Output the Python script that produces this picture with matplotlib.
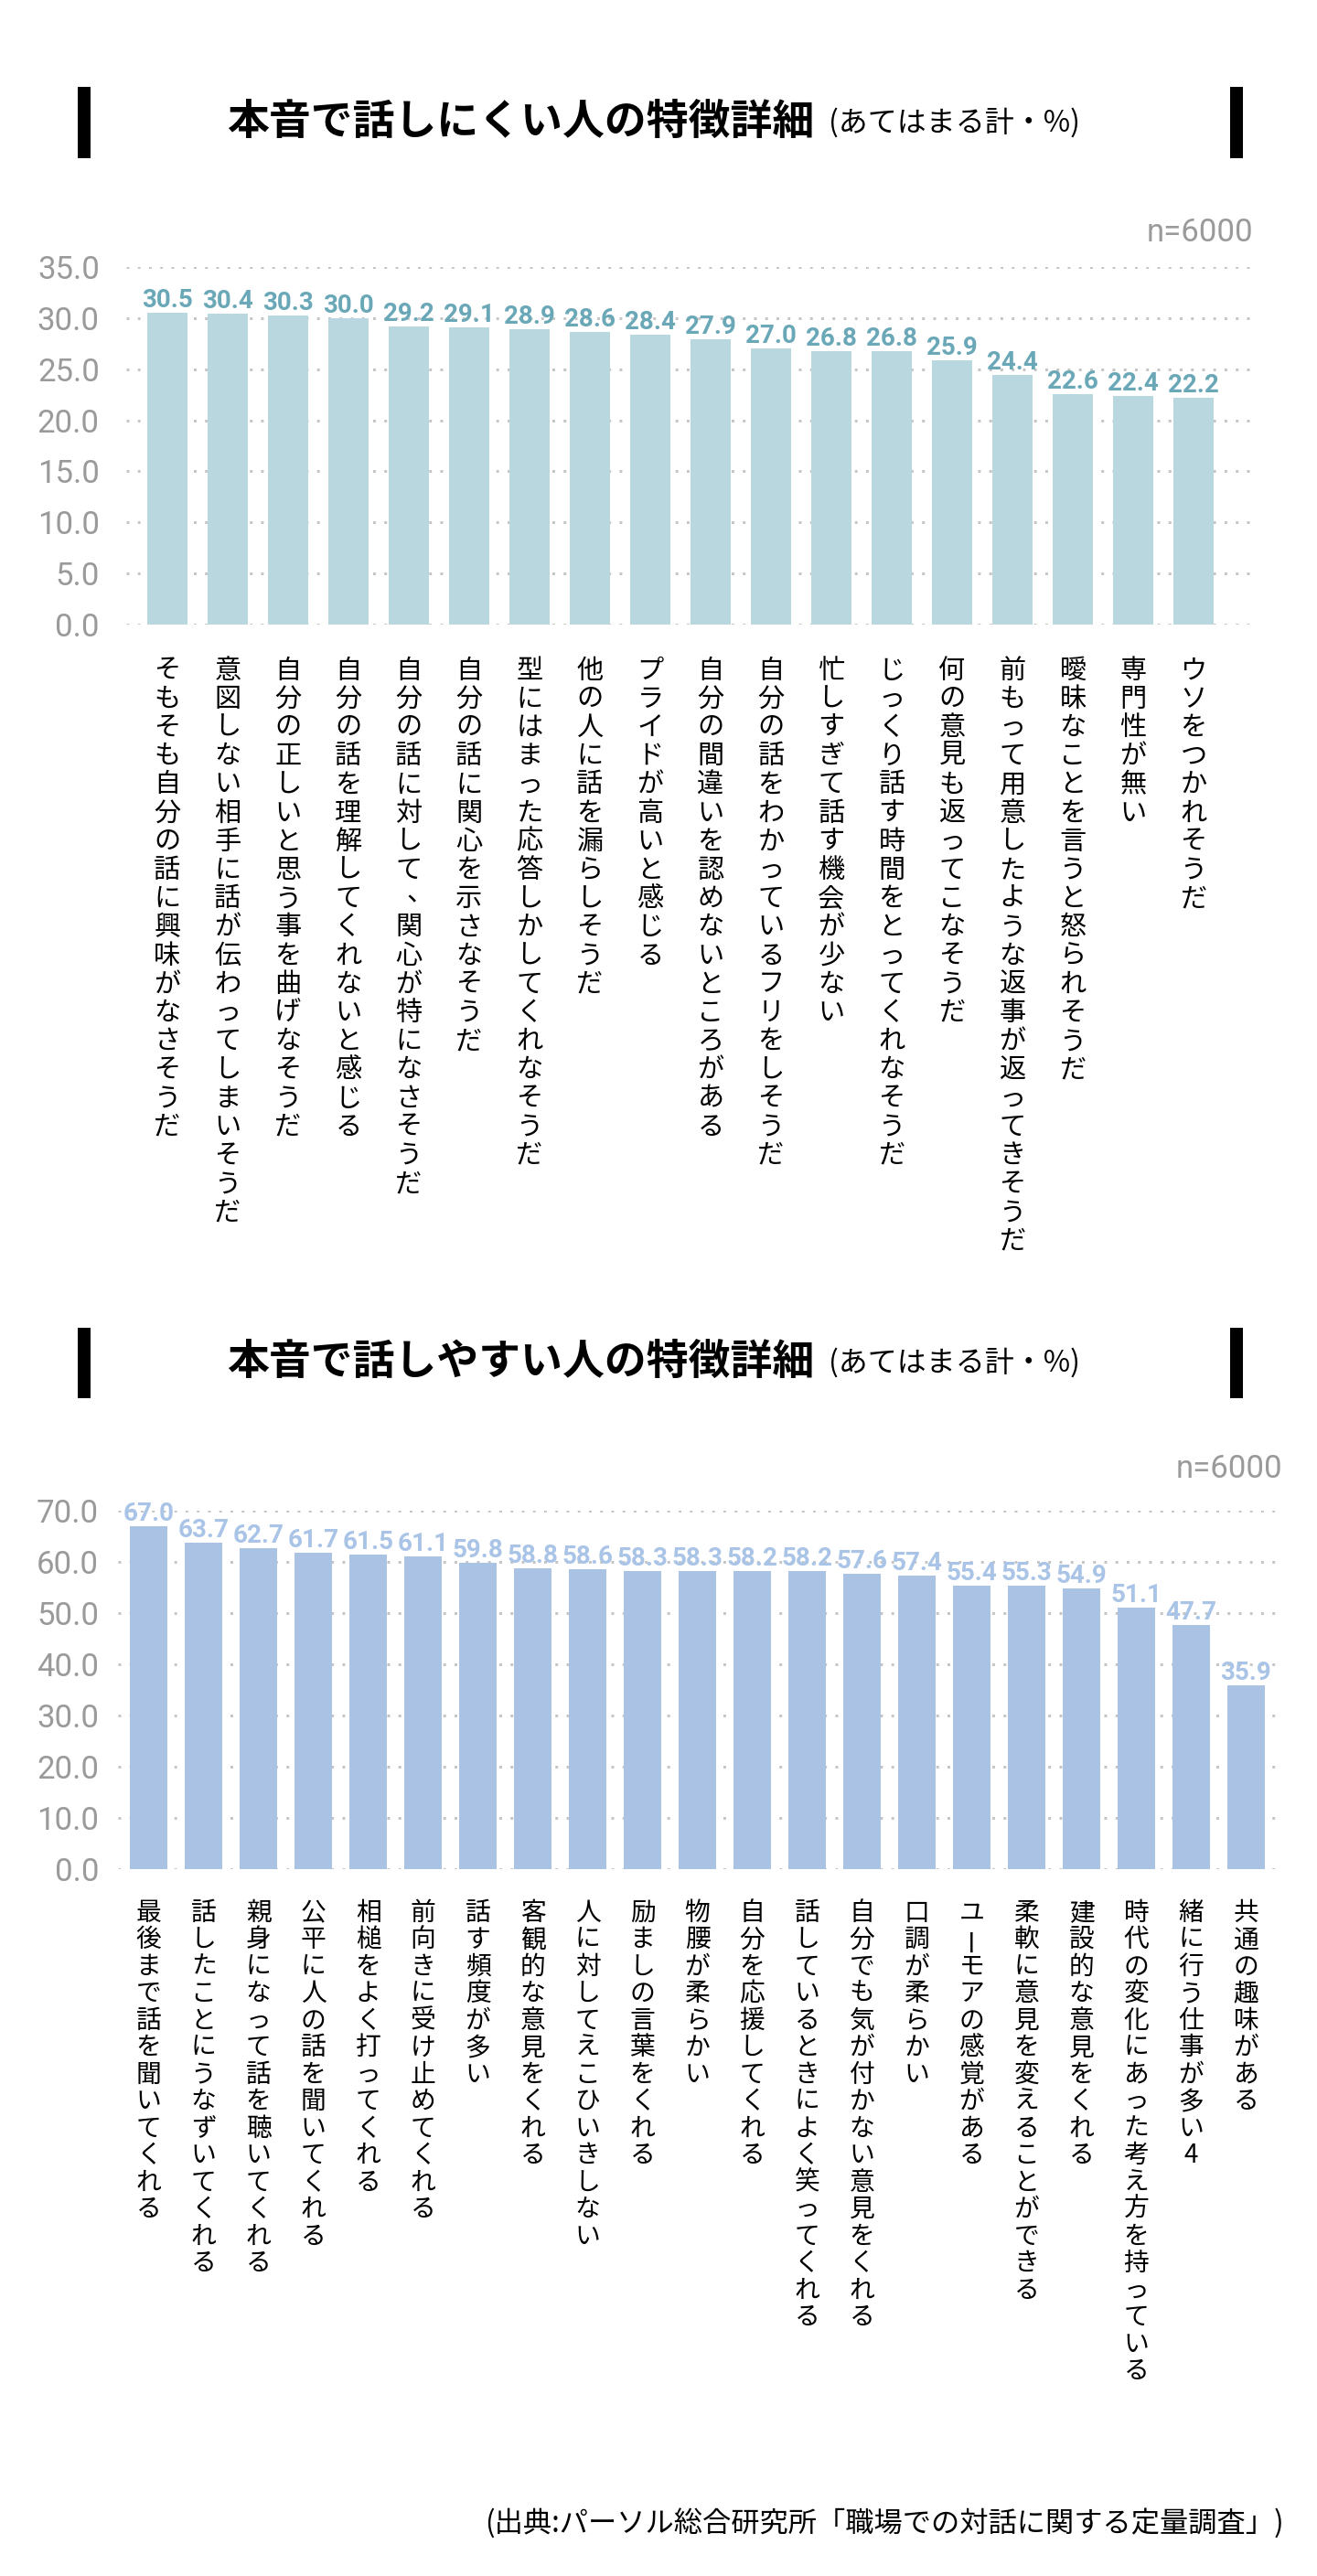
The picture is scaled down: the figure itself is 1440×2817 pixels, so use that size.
import matplotlib
matplotlib.use("Agg")
import matplotlib.pyplot as plt
from matplotlib.patches import Rectangle

# --- data ---
hard_labels = [
    "そもそも自分の話に興味がなさそうだ",
    "意図しない相手に話が伝わってしまいそうだ",
    "自分の正しいと思う事を曲げなそうだ",
    "自分の話を理解してくれないと感じる",
    "自分の話に対して、関心が特になさそうだ",
    "自分の話に関心を示さなそうだ",
    "型にはまった応答しかしてくれなそうだ",
    "他の人に話を漏らしそうだ",
    "プライドが高いと感じる",
    "自分の間違いを認めないところがある",
    "自分の話をわかっているフリをしそうだ",
    "忙しすぎて話す機会が少ない",
    "じっくり話す時間をとってくれなそうだ",
    "何の意見も返ってこなそうだ",
    "前もって用意したような返事が返ってきそうだ",
    "曖昧なことを言うと怒られそうだ",
    "専門性が無い",
    "ウソをつかれそうだ",
]
hard_values = [30.5, 30.4, 30.3, 30.0, 29.2, 29.1, 28.9, 28.6, 28.4, 27.9,
               27.0, 26.8, 26.8, 25.9, 24.4, 22.6, 22.4, 22.2]

easy_labels = [
    "最後まで話を聞いてくれる",
    "話したことにうなずいてくれる",
    "親身になって話を聴いてくれる",
    "公平に人の話を聞いてくれる",
    "相槌をよく打ってくれる",
    "前向きに受け止めてくれる",
    "話す頻度が多い",
    "客観的な意見をくれる",
    "人に対してえこひいきしない",
    "励ましの言葉をくれる",
    "物腰が柔らかい",
    "自分を応援してくれる",
    "話しているときによく笑ってくれる",
    "自分でも気が付かない意見をくれる",
    "口調が柔らかい",
    "ユーモアの感覚がある",
    "柔軟に意見を変えることができる",
    "建設的な意見をくれる",
    "時代の変化にあった考え方を持っている",
    "緒に行う仕事が多い4",
    "共通の趣味がある",
]
easy_values = [67.0, 63.7, 62.7, 61.7, 61.5, 61.1, 59.8, 58.8, 58.6, 58.3, 58.3,
               58.2, 58.2, 57.6, 57.4, 55.4, 55.3, 54.9, 51.1, 47.7, 35.9]

hard_ticks = [0, 5, 10, 15, 20, 25, 30, 35]
easy_ticks = [0, 10, 20, 30, 40, 50, 60, 70]

title_hard = "本音で話しにくい人の特徴詳細"
title_easy = "本音で話しやすい人の特徴詳細"
title_sub = "(あてはまる計・%)"
n_text = "n=6000"
source_text = "(出典:パーソル総合研究所「職場での対話に関する定量調査」)"

W, H = 1440, 2817
JP = ["Noto Sans CJK JP", "DejaVu Sans"]
NUM = ["Roboto", "DejaVu Sans"]
GRAY = "#9a9a9a"

fig = plt.figure(figsize=(W / 100, H / 100), dpi=100)
fig.patch.set_facecolor("white")


def fx(x):
    return x / W


def fy(y):
    return 1 - y / H


def title_block(y_mid, main):
    for x0 in (85, 1345):
        fig.add_artist(Rectangle((fx(x0), fy(y_mid + 38.5)), 14 / W, 77 / H,
                                 transform=fig.transFigure, color="black", lw=0))
    fig.text(fx(890), fy(y_mid), main, ha="right", va="center",
             fontsize=33, fontweight="bold", family=JP)
    fig.text(fx(906), fy(y_mid), title_sub, ha="left", va="center",
             fontsize=23, family=JP)


def vertical_label(ax, x, text, gap, pitch, size):
    # one character per row, top to bottom
    for k, ch in enumerate(text):
        dy = -(gap + pitch * (k + 0.5))
        dx = 0
        rot = 0
        if ch == "ー":
            rot = 90
        if ch in "、。":
            dx, dy = dx + pitch * 0.4, dy + pitch * 0.2
        ax.annotate(ch, (x, 0), xytext=(dx, dy), textcoords="offset points",
                    ha="center", va="center", rotation=rot,
                    fontsize=size, family=JP, color="black",
                    annotation_clip=False)


def bar_chart(rect_px, xlim, labels, values, ticks, bar_color, val_color,
              width, gap, pitch, lsize, tick_pad):
    left, top, right, bottom = rect_px
    ax = fig.add_axes([fx(left), fy(bottom), (right - left) / W, (bottom - top) / H])
    xs = list(range(len(values)))
    ax.bar(xs, values, width=width, color=bar_color, zorder=2)
    for x, v in zip(xs, values):
        ax.annotate(f"{v:.1f}", (x, v), xytext=(0, 0), textcoords="offset points",
                    ha="center", va="bottom", fontsize=20, fontweight="bold",
                    family=NUM, color=val_color)
    ax.set_xlim(*xlim)
    ax.set_ylim(ticks[0], ticks[-1])
    ax.set_yticks(ticks)
    ax.set_yticklabels([f"{t:.1f}" for t in ticks], family=NUM, fontsize=25, color=GRAY)
    ax.tick_params(axis="y", length=0, pad=tick_pad)
    ax.set_xticks([])
    ax.grid(axis="y", color="#c4c4c4", linestyle=(0, (1, 3.2)), linewidth=2.1)
    ax.set_axisbelow(True)
    for s in ax.spines.values():
        s.set_visible(False)
    ax.patch.set_alpha(0)
    for x, lab in zip(xs, labels):
        vertical_label(ax, x, lab, gap, pitch, lsize)
    return ax


# top chart
title_block(134, title_hard)
fig.text(fx(1370), fy(255), n_text, ha="right", va="center", fontsize=25,
         family=NUM, color=GRAY)
bar_chart((138, 292, 1373, 683), (-0.68, 18.03), hard_labels, hard_values,
          hard_ticks, "#b9d7de", "#6aa8b8", 0.667,
          gap=35 * 0.72, pitch=31.2 * 0.72, lsize=21, tick_pad=21)

# bottom chart
title_block(1490, title_easy)
fig.text(fx(1402), fy(1607), n_text, ha="right", va="center", fontsize=25,
         family=NUM, color=GRAY)
bar_chart((129, 1652, 1402, 2044), (-0.56, 20.66), easy_labels, easy_values,
          easy_ticks, "#aac3e4", "#a9c4e6", 0.683,
          gap=33 * 0.72, pitch=29.5 * 0.72, lsize=20, tick_pad=15)

fig.text(fx(1404), fy(2760), source_text, ha="right", va="center",
         fontsize=22.5, family=JP, color="black")

fig.savefig("out.png", dpi=100, facecolor="white")
